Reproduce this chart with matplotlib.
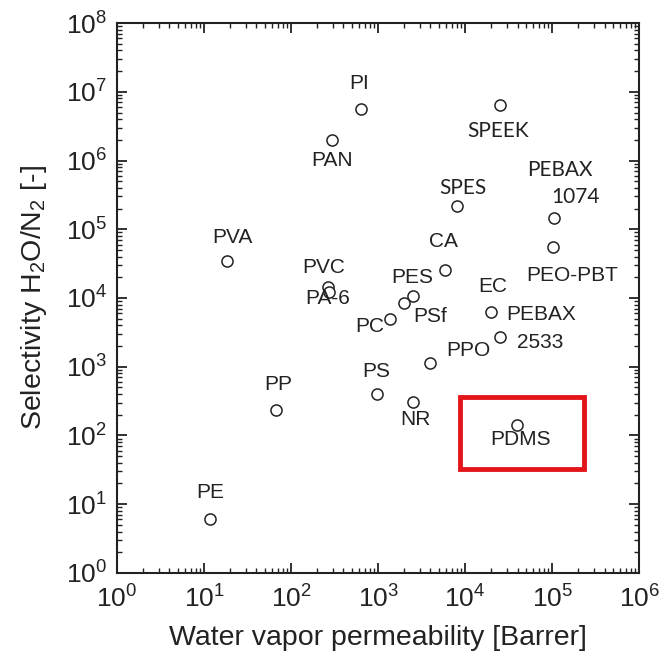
import matplotlib
matplotlib.use("Agg")
import matplotlib.pyplot as plt
from matplotlib.patches import Rectangle

plt.rcParams['font.family'] = ['Liberation Sans', 'DejaVu Sans']
plt.rcParams['mathtext.fontset'] = 'custom'
plt.rcParams['mathtext.rm'] = 'Liberation Sans'
plt.rcParams['mathtext.it'] = 'Liberation Sans'

# polymer, water vapor permeability [Barrer], selectivity H2O/N2
names = ['PE', 'PP', 'PVA', 'PVC', 'PA-6', 'PAN', 'PI', 'SPEEK', 'SPES',
         'PEBAX 1074', 'PEO-PBT', 'CA', 'PES', 'PSf', 'PC', 'EC',
         'PEBAX 2533', 'PPO', 'PS', 'NR', 'PDMS']
perm = [11.7, 67, 18.4, 266, 273, 296, 638, 25200, 8090,
        105000, 103000, 5890, 2525, 1990, 1375, 19900,
        25200, 3960, 975, 2530, 39600]
selec = [6.1, 235, 34500, 14450, 12200, 1.99e6, 5.6e6, 6.4e6, 2.18e5,
         1.46e5, 55200, 25500, 10700, 8460, 4950, 6260,
         2710, 1135, 402, 307, 142]

# label text pieces and offsets (pixels) from their point
labels = {
    'PE': [('PE', 0, 26)],
    'PP': [('PP', 2, 25)],
    'PVA': [('PVA', 5, 24)],
    'PVC': [('PVC', -4, 20)],
    'PA-6': [('PA-6', -1, -6)],
    'PAN': [('PAN', 0, -20)],
    'PI': [('PI', -2, 26)],
    'SPEEK': [('SPEEK', -2, -26)],
    'SPES': [('SPES', 6, 18)],
    'PEBAX 1074': [('PEBAX', 6, 48), ('1074', 22, 21)],
    'PEO-PBT': [('PEO-PBT', 19, -28)],
    'CA': [('CA', -2, 29)],
    'PES': [('PES', -1, 18)],
    'PSf': [('PSf', 26, -14)],
    'PC': [('PC', -20, -8)],
    'EC': [('EC', 2, 25)],
    'PEBAX 2533': [('PEBAX', 41, 22), ('2533', 40, -6)],
    'PPO': [('PPO', 38, 12)],
    'PS': [('PS', -1, 22)],
    'NR': [('NR', 2, -18)],
    'PDMS': [('PDMS', 3, -15)],
}
calibri_like = ['SPEEK', 'SPES', 'PEBAX 1074']

box_x = (8770, 233000)
box_y = (32.6, 363)

fig = plt.figure(figsize=(6.61, 6.60), dpi=100)
ax = fig.add_axes([0.177, 0.132, 0.790, 0.833])

ax.plot(perm, selec, 'o', mfc='white', mec='#222222', mew=1.1, ms=8, ls='none')

for n, x, y in zip(names, perm, selec):
    for txt, dx, dy in labels[n]:
        fam = ['Lato', 'DejaVu Sans'] if n in calibri_like else ['Liberation Sans', 'DejaVu Sans']
        ax.annotate(txt, (x, y), xytext=(dx, dy), textcoords='offset pixels',
                    ha='center', va='center', fontsize=15, color='#222222', family=fam)

ax.add_patch(Rectangle((box_x[0], box_y[0]), box_x[1] - box_x[0], box_y[1] - box_y[0],
                       fill=False, ec='#e3151a', lw=3.5, zorder=5))

ax.set_xscale('log')
ax.set_yscale('log')
ax.set_xlim(1, 1e6)
ax.set_ylim(1, 1e8)
ax.set_xticks([10**i for i in range(7)])
ax.set_yticks([10**i for i in range(9)])

ax.tick_params(which='both', direction='in', top=True, right=True, labelsize=19, colors='#222222')
ax.tick_params(which='major', length=7, width=1.3)
ax.tick_params(which='minor', length=3.5, width=1.0)
ax.tick_params(axis='x', pad=9)
ax.tick_params(axis='y', pad=7)
for s in ax.spines.values():
    s.set_linewidth(1.5)
    s.set_color('#222222')

ax.set_xlabel('Water vapor permeability [Barrer]', fontsize=20.5, color='#222222', labelpad=9)
ax.set_ylabel('Selectivity H$_2$O/N$_2$ [-]', fontsize=20.5, color='#222222', labelpad=12)

fig.savefig('out.png', dpi=100)
